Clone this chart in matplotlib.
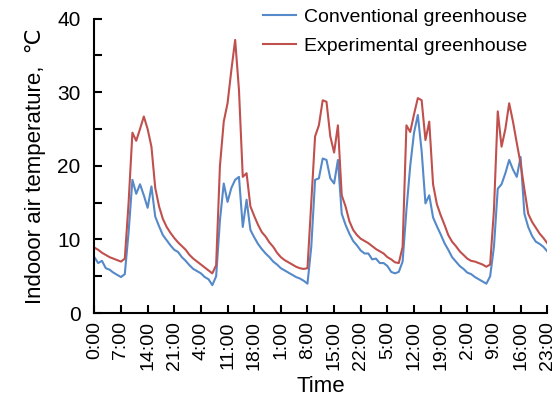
import numpy as np
import matplotlib.pyplot as plt
from matplotlib.ticker import MultipleLocator

# hourly readings, 0:00 day 1 .. 23:00 day 5
hours = np.arange(120)

conventional = [
    7.6, 6.8, 7.1, 6.1, 5.9, 5.5, 5.2, 4.9, 5.3, 11.0, 18.1, 16.2, 17.5, 16.0, 14.3, 17.2,
    13.1, 11.8, 10.6, 9.9, 9.2, 8.6, 8.3, 7.6, 7.1, 6.5, 6.0, 5.7, 5.4, 4.9, 4.6, 3.8,
    5.0, 12.6, 17.6, 15.1, 17.0, 18.1, 18.5, 11.7, 15.4, 11.3, 10.3, 9.4, 8.7, 8.1, 7.6, 7.0,
    6.6, 6.1, 5.8, 5.5, 5.2, 4.9, 4.7, 4.4, 4.0, 9.0, 18.1, 18.3, 21.0, 20.8, 18.3, 17.6,
    20.8, 13.5, 12.0, 10.8, 9.8, 9.2, 8.5, 8.1, 8.1, 7.3, 7.4, 6.8, 6.8, 6.4, 5.6, 5.4,
    5.6, 7.0, 14.0, 20.0, 24.5, 26.9, 22.0, 14.9, 16.0, 13.0, 11.8, 10.7, 9.5, 8.6, 7.6, 7.0,
    6.4, 6.0, 5.5, 5.3, 4.9, 4.6, 4.3, 4.0, 5.0, 9.0, 16.9, 17.5, 19.0, 20.8, 19.5, 18.5,
    21.2, 13.5, 11.7, 10.5, 9.7, 9.4, 9.0, 8.4,
]

experimental = [
    8.9, 8.6, 8.2, 7.9, 7.6, 7.4, 7.2, 7.0, 7.4, 15.0, 24.5, 23.4, 25.0, 26.7, 25.0, 22.6,
    17.0, 14.5, 12.8, 11.7, 10.9, 10.2, 9.6, 9.1, 8.6, 7.9, 7.4, 7.0, 6.6, 6.2, 5.8, 5.4,
    6.5, 20.0, 26.0, 28.5, 33.0, 37.1, 30.3, 18.5, 19.0, 14.5, 13.2, 12.0, 11.0, 10.4, 9.6, 9.0,
    8.2, 7.6, 7.2, 6.9, 6.6, 6.3, 6.1, 6.0, 6.1, 15.0, 24.0, 25.5, 28.9, 28.7, 24.0, 21.8,
    25.5, 16.0, 14.5, 12.5, 11.3, 10.6, 10.1, 9.8, 9.5, 9.1, 8.7, 8.4, 8.1, 7.6, 7.3, 6.9,
    6.8, 9.0, 25.5, 24.6, 27.0, 29.2, 28.9, 23.5, 26.0, 17.5, 14.8, 13.3, 12.0, 10.6, 9.7, 9.1,
    8.4, 7.9, 7.4, 7.1, 7.0, 6.8, 6.6, 6.3, 6.6, 14.0, 27.4, 22.6, 25.0, 28.5, 26.0, 23.1,
    20.3, 16.8, 13.5, 12.4, 11.6, 10.8, 10.2, 9.5,
]

tick_pos = list(range(0, 120, 7))
tick_labels = ["%d:00" % (h % 24) for h in tick_pos]

plt.rcParams['font.family'] = ['Liberation Sans', 'DejaVu Sans']

fig = plt.figure(figsize=(5.55, 4.03), dpi=100)
ax = fig.add_axes([0.170, 0.223, 0.816, 0.731])

ax.plot(hours, conventional, color='#5589C9', lw=1.5, label='Conventional greenhouse')
ax.plot(hours, experimental, color='#C0504D', lw=1.5, label='Experimental greenhouse')

ax.set_xlim(0, 119)
ax.set_ylim(0, 40)
ax.yaxis.set_major_locator(MultipleLocator(10))
ax.yaxis.set_minor_locator(MultipleLocator(5))
ax.set_xticks(tick_pos)
ax.set_xticklabels(tick_labels, rotation=90)

for s in ['top', 'right']:
    ax.spines[s].set_visible(False)
for s in ['left', 'bottom']:
    ax.spines[s].set_linewidth(1.5)

ax.tick_params(axis='y', which='both', direction='in', length=6, width=1.5, labelsize=15, pad=10)
ax.tick_params(axis='x', direction='in', length=6, width=1.5, labelsize=14, pad=6)

ax.set_ylabel('Indooor air temperature,  \u2103', fontsize=16, labelpad=8)
ax.set_xlabel('Time', fontsize=16)

ax.legend(loc='upper right', bbox_to_anchor=(0.973, 1.06), frameon=False, fontsize=14,
          handlelength=1.7, handletextpad=0.4, labelspacing=0.55, borderaxespad=0)

fig.savefig('out.png', dpi=100)
